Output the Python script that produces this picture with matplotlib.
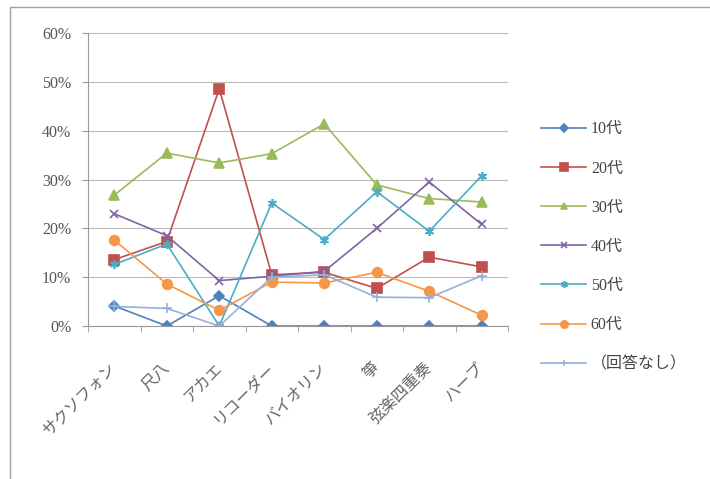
import matplotlib.pyplot as plt
from matplotlib.patches import Rectangle
from matplotlib.ticker import FixedLocator, PercentFormatter

plt.rcParams['font.family'] = ['Liberation Serif', 'Noto Sans CJK JP']

# 楽器ごとの年代別割合 (%)
instruments = ['サクソフォン', '尺八', 'アカエ', 'リコーダー', 'バイオリン', '箏', '弦楽四重奏', 'ハープ']
age_labels = ['10代', '20代', '30代', '40代', '50代', '60代', '（回答なし）']

teens    = [4.1, 0.0, 6.2, 0.0, 0.0, 0.0, 0.0, 0.0]
twenties = [13.6, 17.3, 48.6, 10.5, 11.0, 7.7, 14.1, 12.1]
thirties = [26.8, 35.4, 33.4, 35.3, 41.4, 28.9, 26.1, 25.4]
forties  = [23.0, 18.5, 9.3, 10.2, 11.2, 20.0, 29.5, 20.8]
fifties  = [12.6, 16.8, 0.0, 25.2, 17.7, 27.5, 19.4, 30.8]
sixties  = [17.6, 8.6, 3.2, 9.0, 8.8, 11.0, 7.1, 2.2]
no_reply = [4.0, 3.6, 0.0, 10.0, 10.5, 5.9, 5.8, 10.3]

series = [teens, twenties, thirties, forties, fifties, sixties, no_reply]
colors = ['#4F81BD', '#C0504D', '#9BBB59', '#8064A2', '#4BACC6', '#F79646', '#93B1DA']
markers = ['D', 's', '^', 'x', (6, 2, 0), 'o', '+']
msizes = [5.5, 7, 6.5, 5.5, 6.5, 7, 6.5]

fig = plt.figure(figsize=(7.1, 4.79), dpi=100)
ax = fig.add_axes([0.124, 0.3194, 0.5915, 0.6116])

# 外枠
fig.patches.append(Rectangle((0.014, -0.02), 1.0, 1.005, transform=fig.transFigure,
                             fill=False, edgecolor='#A0A0A0', linewidth=1.0))

x = list(range(len(instruments)))
for vals, lab, c, m, ms in zip(series, age_labels, colors, markers, msizes):
    ax.plot(x, vals, color=c, marker=m, markersize=ms, linewidth=1.2,
            markeredgewidth=1.2, label=lab)

ax.set_xlim(-0.5, len(instruments) - 0.5)
ax.set_ylim(0, 60)
ax.set_yticks(range(0, 61, 10))
ax.yaxis.set_major_formatter(PercentFormatter(decimals=0))
ax.grid(axis='y', color='#BBBBBB', linewidth=0.8)
ax.set_axisbelow(True)

for s in ['top', 'right']:
    ax.spines[s].set_visible(False)
for s in ['left', 'bottom']:
    ax.spines[s].set_color('#999999')

ax.set_xticks(x)
ax.set_xticklabels(instruments, rotation=45, ha='right', va='center',
                   rotation_mode='anchor', fontsize=11.5, color='#666666',
                   family=['Noto Sans CJK JP'])
ax.tick_params(axis='x', which='major', length=0, pad=28)
ax.xaxis.set_minor_locator(FixedLocator([i + 0.5 for i in range(-1, len(instruments))]))
ax.tick_params(axis='x', which='minor', length=4, color='#999999')
ax.tick_params(axis='y', length=4, color='#999999', labelsize=11.5,
               labelcolor='#555555', pad=8)

ax.legend(loc='center left', bbox_to_anchor=(1.045, 0.27), frameon=False,
          fontsize=11.5, labelspacing=1.45, handlelength=2.8, handletextpad=0.3,
          markerscale=0.75, labelcolor='#444444')

fig.savefig('out.png', dpi=100, facecolor='white')
